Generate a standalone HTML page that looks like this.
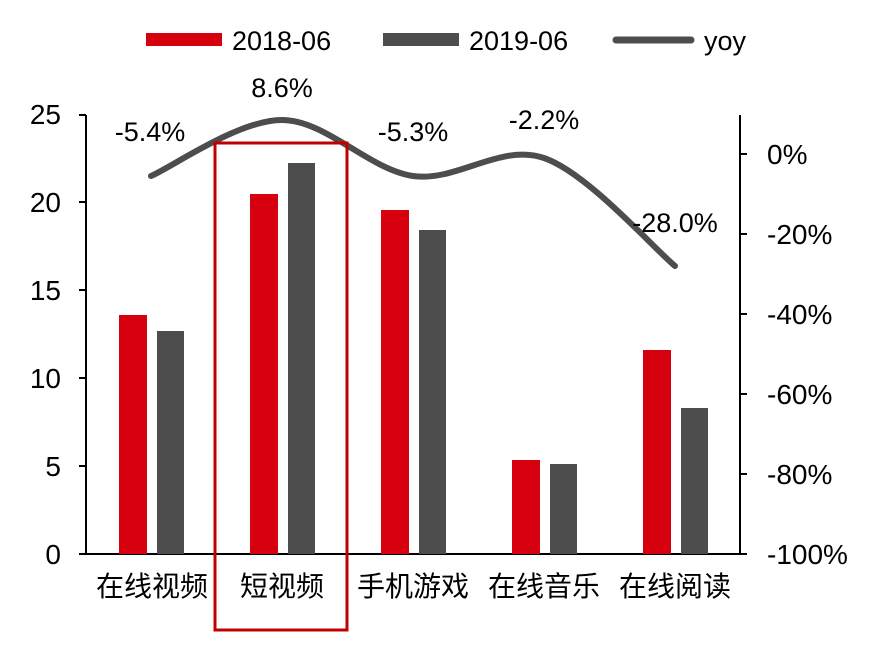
<!DOCTYPE html>
<html><head><meta charset="utf-8"><style>
body{margin:0;background:#fff;}
svg text{font-family:"Liberation Sans","Noto Sans CJK SC",sans-serif;fill:#000;}
</style></head><body>
<svg width="870" height="644" viewBox="0 0 870 644" xmlns="http://www.w3.org/2000/svg">
<!-- legend -->
<rect x="146" y="33" width="76" height="13" fill="#d7000f"/>
<text x="232" y="50" font-size="27">2018-06</text>
<rect x="383" y="33" width="76" height="13" fill="#4d4d4d"/>
<text x="469" y="50" font-size="27">2019-06</text>
<line x1="616" y1="40" x2="691" y2="40" stroke="#4d4d4d" stroke-width="7" stroke-linecap="round"/>
<text x="704" y="50" font-size="27">yoy</text>
<!-- axes -->
<g stroke="#000" stroke-width="2">
<line x1="86" y1="115" x2="86" y2="554"/>
<line x1="86" y1="554" x2="740" y2="554"/>
<line x1="740" y1="115" x2="740" y2="554"/>
<line x1="79" y1="115" x2="86" y2="115"/><line x1="79" y1="202" x2="86" y2="202"/>
<line x1="79" y1="290" x2="86" y2="290"/><line x1="79" y1="378" x2="86" y2="378"/>
<line x1="79" y1="466" x2="86" y2="466"/><line x1="79" y1="554" x2="86" y2="554"/>
<line x1="740" y1="154" x2="747" y2="154"/><line x1="740" y1="234" x2="747" y2="234"/>
<line x1="740" y1="314" x2="747" y2="314"/><line x1="740" y1="394" x2="747" y2="394"/>
<line x1="740" y1="474" x2="747" y2="474"/><line x1="740" y1="554" x2="747" y2="554"/>
</g>
<g font-size="28" text-anchor="end">
<text x="61" y="124">25</text><text x="61" y="212">20</text><text x="61" y="300">15</text>
<text x="61" y="388">10</text><text x="61" y="476">5</text><text x="61" y="564">0</text>
</g>
<g font-size="28">
<text x="767" y="164">0%</text><text x="767" y="244">-20%</text><text x="767" y="324">-40%</text>
<text x="767" y="404">-60%</text><text x="767" y="484">-80%</text><text x="767" y="564">-100%</text>
</g>
<!-- bars -->
<g fill="#d7000f">
<rect x="119" y="315" width="28" height="239"/>
<rect x="250" y="194" width="28" height="360"/>
<rect x="381" y="210" width="28" height="344"/>
<rect x="512" y="460" width="28" height="94"/>
<rect x="643" y="350" width="28" height="204"/>
</g>
<g fill="#4d4d4d">
<rect x="157" y="331" width="27" height="223"/>
<rect x="288" y="163" width="27" height="391"/>
<rect x="419" y="230" width="27" height="324"/>
<rect x="550" y="464" width="27" height="90"/>
<rect x="681" y="408" width="27" height="146"/>
</g>
<path d="M151,176 C172.8,166.7 238.3,120 282,120 C325.7,120 369.3,169.7 413,176 C456.7,182.3 500.3,143 544,158 C587.7,173 653.2,248 675,266" fill="none" stroke="#4d4d4d" stroke-width="6" stroke-linecap="round"/>
<g font-size="27" text-anchor="middle">
<text x="150" y="141">-5.4%</text><text x="282" y="97">8.6%</text><text x="413" y="141">-5.3%</text>
<text x="544" y="129">-2.2%</text><text x="675" y="232">-28.0%</text>
</g>
<g font-size="28" text-anchor="middle">
<text x="152" y="596">在线视频</text><text x="282" y="596">短视频</text><text x="413" y="596">手机游戏</text>
<text x="544" y="596">在线音乐</text><text x="675" y="596">在线阅读</text>
</g>
<rect x="215" y="143" width="132" height="487" fill="none" stroke="#c00000" stroke-width="3"/>
</svg>
</body></html>
